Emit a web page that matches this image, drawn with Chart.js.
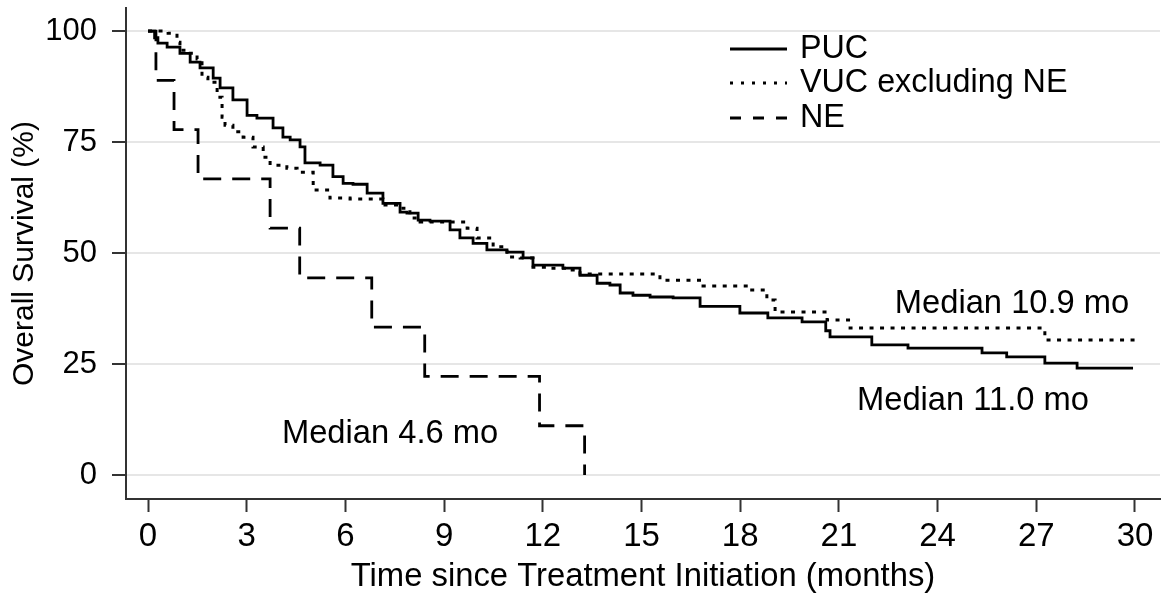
<!DOCTYPE html>
<html><head><meta charset="utf-8">
<script src="https://cdn.jsdelivr.net/npm/chart.js@4/dist/chart.umd.min.js"></script>
<style>html,body{margin:0;padding:0;background:#fff}#wrap{width:1175px;height:600px;position:relative}</style>
</head><body><div id="wrap"><canvas id="c"></canvas></div>
<script>
const seriesLabels = ['PUC', 'VUC excluding NE', 'NE'];
const pucTime = [0, 0.2, 0.3, 0.58, 0.97, 1.28, 1.58, 1.98, 2.19, 2.58, 3.01, 3.31, 3.80, 4.10, 4.32, 4.62, 4.77, 5.23, 5.62, 5.93, 6.23, 6.66, 7.14, 7.66, 7.87, 8.21, 8.57, 9.18, 9.48, 9.88, 10.30, 10.91, 11.40, 11.70, 12.61, 13.13, 13.65, 14.04, 14.35, 14.74, 15.26, 15.96, 16.78, 17.99, 18.84, 19.88, 20.6, 20.73, 22.0, 23.1, 25.35, 26.1, 27.26, 28.24, 29.94];
const pucSurv = [100, 98.5, 97.3, 96.4, 95, 93, 91.7, 89.4, 87.2, 84.5, 81, 80.4, 78.2, 76.1, 75.5, 73.9, 70.3, 69.8, 67.2, 65.7, 65.5, 63.5, 61.2, 59.2, 59, 57.4, 57.2, 55.2, 53.4, 52.2, 50.7, 50.2, 48.9, 47.3, 46.6, 45, 43.2, 42.8, 41, 40.5, 40.1, 39.9, 38, 36.5, 35.4, 34.5, 32.5, 31.1, 29.3, 28.6, 27.5, 26.6, 25.2, 24.1, 24.1];
const vucTime = [0, 0.36, 0.61, 0.88, 0.97, 1.19, 1.49, 1.64, 1.82, 2.10, 2.25, 2.34, 2.58, 2.89, 3.19, 3.50, 3.71, 4.22, 4.53, 5.02, 5.53, 6.14, 7.14, 7.66, 7.96, 8.27, 9.70, 10.0, 10.49, 10.91, 11.31, 11.70, 12.13, 12.74, 13.13, 15.56, 16.87, 18.30, 18.81, 19.06, 20.64, 21.34, 27.26, 30.0];
const vucSurv = [100, 100, 99.5, 97.5, 95.7, 95, 93.7, 89.6, 88.5, 85.1, 80.6, 78.8, 77.3, 76.1, 73.9, 71.6, 69.8, 69.1, 68.2, 64.2, 62.4, 62.2, 60.8, 60.1, 57.9, 57, 55.6, 53.4, 51.4, 49.1, 48.9, 46.8, 46.6, 46.2, 45.3, 43.9, 42.6, 41.7, 39.4, 36.7, 34.9, 33.1, 30.4, 30.4];
const neTime = [0, 0.24, 0.79, 1.52, 3.71, 4.61, 6.8, 8.41, 11.9, 13.27];
const neSurv = [100, 88.9, 77.8, 66.7, 55.6, 44.4, 33.3, 22.2, 11.1, 0];
const xTicks = [0, 3, 6, 9, 12, 15, 18, 21, 24, 27, 30];
const yTicks = [0, 25, 50, 75, 100];
const xTitle = 'Time since Treatment Initiation (months)';
const yTitle = 'Overall Survival (%)';
const medianTexts = ['Median 10.9 mo', 'Median 11.0 mo', 'Median 4.6 mo'];

const FONT = '"Liberation Sans", Arial, Helvetica, sans-serif';
const pts = (ts, ss) => ts.map((t, i) => ({x: t, y: ss[i]}));

const legendPlugin = {
  id: 'kmLegend',
  afterDraw(chart, args, opts) {
    const ctx = chart.ctx;
    chart.data.datasets.forEach((ds, i) => {
      const y = opts.rows[i];
      ctx.save();
      ctx.strokeStyle = '#000';
      ctx.lineWidth = 3;
      ctx.lineCap = 'butt';
      ctx.setLineDash(opts.dashes[i]);
      ctx.beginPath();
      ctx.moveTo(opts.x0, y);
      ctx.lineTo(opts.x1, y);
      ctx.stroke();
      ctx.setLineDash([]);
      ctx.fillStyle = '#000';
      ctx.font = opts.fontSize + 'px ' + FONT;
      ctx.textBaseline = 'middle';
      ctx.textAlign = 'left';
      ctx.fillText(ds.label, opts.textX, y);
      ctx.restore();
    });
  }
};

const medianPlugin = {
  id: 'medians',
  afterDraw(chart, args, opts) {
    const ctx = chart.ctx, xs = chart.scales.x, ys = chart.scales.y;
    ctx.save();
    ctx.fillStyle = '#000';
    ctx.font = opts.fontSize + 'px ' + FONT;
    ctx.textBaseline = 'alphabetic';
    ctx.textAlign = 'left';
    medianTexts.forEach((txt, i) => {
      const p = opts.at[i];
      ctx.fillText(txt, xs.getPixelForValue(p[0]), ys.getPixelForValue(p[1]));
    });
    ctx.restore();
  }
};

new Chart(document.getElementById('c'), {
  type: 'line',
  data: {
    datasets: [
      {label: seriesLabels[0], data: pts(pucTime, pucSurv), borderColor: '#000', borderWidth: 2.8, stepped: 'before', pointRadius: 0, fill: false, borderJoinStyle: 'miter'},
      {label: seriesLabels[1], data: pts(vucTime, vucSurv), borderColor: '#000', borderWidth: 3, borderDash: [4, 6.5], stepped: 'before', pointRadius: 0, fill: false, borderJoinStyle: 'miter'},
      {label: seriesLabels[2], data: pts(neTime, neSurv), borderColor: '#000', borderWidth: 2.8, borderDash: [18, 11], stepped: 'before', pointRadius: 0, fill: false, borderJoinStyle: 'miter'}
    ]
  },
  options: {
    responsive: true,
    maintainAspectRatio: false,
    animation: false,
    layout: {padding: {left: 0, right: 15, top: 8, bottom: 0}},
    plugins: {
      legend: {display: false},
      tooltip: {enabled: false},
      kmLegend: {rows: [49, 83, 118], x0: 730, x1: 787, textX: 800, fontSize: 32.3, dashes: [[], [3, 8], [11, 12]]},
      medians: {fontSize: 32.7, at: [[22.7, 36.5], [21.55, 14.6], [4.07, 7.2]]}
    },
    scales: {
      x: {
        type: 'linear', min: -0.67, max: 30.76,
        afterBuildTicks: a => { a.ticks = xTicks.map(v => ({value: v})); },
        afterFit: s => { s.height = 101; s.paddingLeft = 0; s.paddingRight = 0; },
        ticks: {font: {family: FONT, size: 33}, color: '#000', padding: 5, maxRotation: 0, autoSkip: false},
        grid: {drawOnChartArea: false, drawTicks: true, tickLength: 13, tickColor: '#333', tickWidth: 2},
        border: {display: true, color: '#333', width: 2},
        title: {display: true, text: xTitle, color: '#000', font: {family: FONT, size: 32.8}, padding: {top: 0, bottom: 3}}
      },
      y: {
        type: 'linear', min: -5.4, max: 105.2,
        afterBuildTicks: a => { a.ticks = yTicks.map(v => ({value: v})); },
        afterFit: s => { s.width = 126; s.paddingTop = 0; s.paddingBottom = 0; },
        ticks: {font: {family: FONT, size: 31}, color: '#000', padding: 15},
        grid: {color: '#e6e6e6', lineWidth: 2, tickLength: 14, tickColor: '#333', tickWidth: 2},
        border: {display: true, color: '#333', width: 2},
        title: {display: true, text: yTitle, color: '#000', font: {family: FONT, size: 30}, padding: {top: 7, bottom: 0}}
      }
    }
  },
  plugins: [legendPlugin, medianPlugin]
});
</script>
</body></html>
